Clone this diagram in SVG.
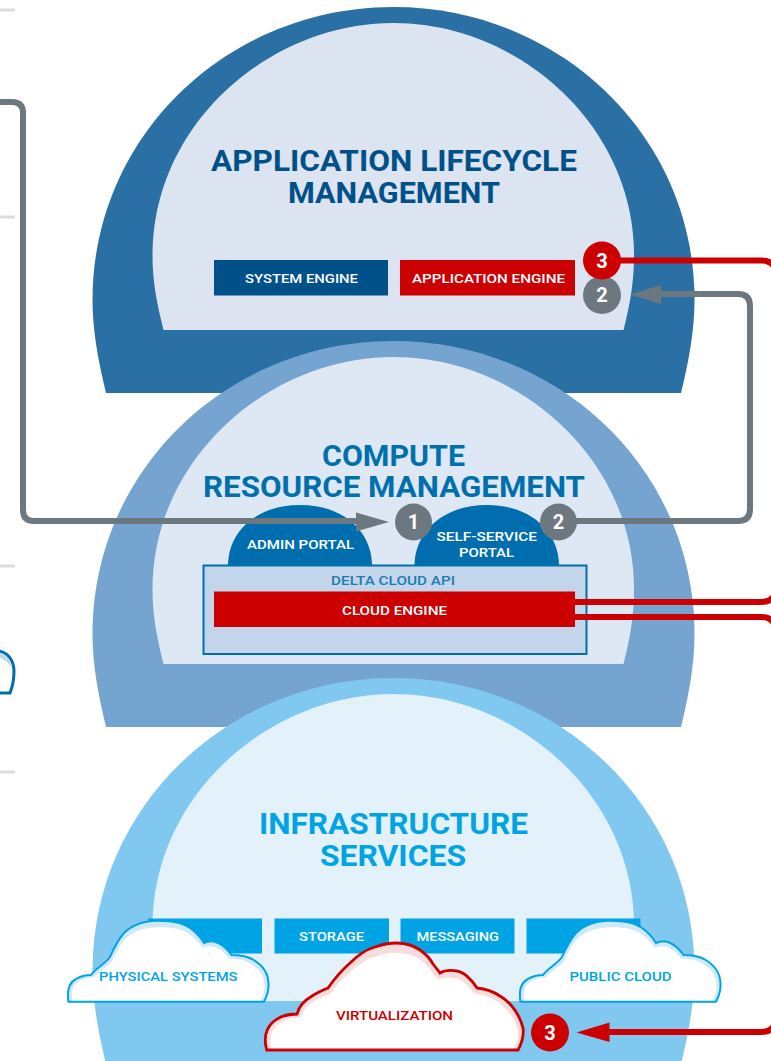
<svg xmlns="http://www.w3.org/2000/svg" width="771" height="1061" viewBox="0 0 771 1061">
<style>
text{font-family:"Roboto","Liberation Sans",sans-serif;font-weight:500}
.t{font-size:29px;font-weight:700}
.s{font-size:13.5px;fill:#fff}
.n{font-size:20px;font-weight:700;fill:#fff;text-anchor:middle}
.g{fill:none;stroke:#6d7780;stroke-width:6}
.r{fill:none;stroke:#cc0000;stroke-width:6}
.tick{fill:#dcdcdc}
</style>
<defs>
<path id="outer" d="M106 393C98 360 92.5 330 92.5 300C92.5 135 228.500 7 393.5 7C558.500 7 694.5 135 694.5 300C694.5 330 689 360 681 393Z"/>
<path id="inner" d="M163.5 330C156 300 152.5 280 152.5 255C152.5 125 268.500 23 393.5 23C518.500 23 634 125 634 255C634 280 631 300 623.5 330Z"/>
<path id="cloud" d="M68.4 1001.7C67 992 68 983 76 979C81 976 87 975 91 975C96 968 104 965 110 957C114 948 117 941 124 933C133 924 146 920.7 158 920.7C172 920.7 182 922 190 928C197 933 201 938 204 943C208 941 212 941 216 942C224 945 228 950 231.6 955C240 955 246 956 252 959C261 964 268 972 268.5 983C269 990 267 996 264 1001.7Z"/>
<path id="vcloud" d="M266.7 1050C264 1040 264 1030 273 1022C280 1016 289 1014 297 1014C299 1006 305 1000 312 996C318 992 323 990 328 988C335 978 342 970 350 963C358 955 368 949 375 947C383 944 390 943 397 943C406 943 414 946 420 950C427 955 431 960 433 964C436 968 438 970 440 973C445 970 451 970 457 971C464 972 472 980 477 988C487 989 494 992 500 996C512 1003 520 1016 523 1028C524 1036 522 1043 518 1050Z"/>
</defs>
<g id="ticks">
<rect class="tick" x="0" y="8.500" width="15" height="3"/>
<rect class="tick" x="0" y="215.500" width="15" height="3"/>
<rect class="tick" x="0" y="564.500" width="15" height="3"/>
<rect class="tick" x="0" y="770.500" width="15" height="3"/>
</g>
<g id="side-cloud">
<path d="M-2 651C8 652 14 661 14 671C14 680 12 688 10 693L-2 693Z" fill="#fff" stroke="#006eae" stroke-width="3"/>
<path d="M0 653C6 655 11 660 12 668C8 662 4 659 0 658Z" fill="#c2d5eb"/>
</g>
<g id="application-lifecycle">
<use href="#outer" fill="#2a70a4"/>
<use href="#inner" fill="#dbe4f0"/>
<text class="t" x="211" y="171" fill="#00508a" textLength="366" lengthAdjust="spacingAndGlyphs">APPLICATION LIFECYCLE</text>
<text class="t" x="288" y="203" fill="#00508a" textLength="212" lengthAdjust="spacingAndGlyphs">MANAGEMENT</text>
</g>
<g id="system-engine">
<rect x="214" y="260" width="174" height="35.500" fill="#00508a"/>
<text class="s" x="245" y="283" textLength="113" lengthAdjust="spacingAndGlyphs">SYSTEM ENGINE</text>
</g>
<g id="application-engine">
<rect x="400" y="260" width="175" height="35.500" fill="#cc0000"/>
<text class="s" x="412" y="283" textLength="153" lengthAdjust="spacingAndGlyphs">APPLICATION ENGINE</text>
</g>
<g id="compute-resource">
<use href="#outer" transform="translate(0 334)" fill="#75a4d0"/>
<use href="#inner" transform="translate(0 334)" fill="#dee8f5"/>
<text class="t" x="322" y="466" fill="#0070ad" textLength="143" lengthAdjust="spacingAndGlyphs">COMPUTE</text>
<text class="t" x="203" y="497" fill="#0070ad" textLength="382" lengthAdjust="spacingAndGlyphs">RESOURCE MANAGEMENT</text>
</g>
<g id="admin-portal">
<path d="M228 566C228 530 258 505 300 505C342 505 372 530 372 566Z" fill="#006eae"/>
<text class="s" x="247" y="549" textLength="107" lengthAdjust="spacingAndGlyphs">ADMIN PORTAL</text>
</g>
<g id="self-service-portal">
<path d="M414.500 566C414.500 530 445 505 487 505C529 505 559 530 559 566Z" fill="#006eae"/>
<text class="s" x="436.500" y="541" textLength="100.500" lengthAdjust="spacingAndGlyphs">SELF-SERVICE</text>
<text class="s" x="459" y="557" textLength="55" lengthAdjust="spacingAndGlyphs">PORTAL</text>
</g>
<g id="delta-cloud-api">
<rect x="203.500" y="565.500" width="383" height="88.500" fill="#c2d5eb" stroke="#0070ad" stroke-width="2"/>
<text class="s" x="331" y="584.500" style="fill:#1c7db5" textLength="124" lengthAdjust="spacingAndGlyphs">DELTA CLOUD API</text>
</g>
<g id="infrastructure">
<use href="#outer" transform="translate(0 671)" fill="#80c8f0"/>
<use href="#inner" transform="translate(0 671)" fill="#e3f1fb"/>
<text class="t" x="259" y="834" fill="#00a4e4" textLength="269" lengthAdjust="spacingAndGlyphs">INFRASTRUCTURE</text>
<text class="t" x="320" y="866" fill="#00a4e4" textLength="146" lengthAdjust="spacingAndGlyphs">SERVICES</text>
</g>
<g id="services">
<rect x="148" y="918.500" width="114" height="35" fill="#00a4e4"/>
<rect x="274.500" y="918.500" width="114.500" height="35" fill="#00a4e4"/>
<text class="s" x="299" y="941" textLength="65" lengthAdjust="spacingAndGlyphs">STORAGE</text>
<rect x="400.500" y="918.500" width="114" height="35" fill="#00a4e4"/>
<text class="s" x="416.500" y="941" textLength="82.500" lengthAdjust="spacingAndGlyphs">MESSAGING</text>
<rect x="526.500" y="918.500" width="114" height="35" fill="#00a4e4"/>
</g>
<g id="physical-systems">
<use href="#cloud" fill="#cfe9f9"/>
<use href="#cloud" fill="#fff" transform="translate(6.700 80.200) scale(.96 .92)"/>
<use href="#cloud" fill="none" stroke="#00a4e4" stroke-width="2"/>
<text class="s" x="99" y="981" style="fill:#00a4e4" textLength="138.500" lengthAdjust="spacingAndGlyphs">PHYSICAL SYSTEMS</text>
</g>
<g id="public-cloud">
<g transform="translate(452)">
<use href="#cloud" fill="#cfe9f9"/>
<use href="#cloud" fill="#fff" transform="translate(6.700 80.200) scale(.96 .92)"/>
<use href="#cloud" fill="none" stroke="#00a4e4" stroke-width="2"/>
</g>
<text class="s" x="569.500" y="981" style="fill:#00a4e4" textLength="102" lengthAdjust="spacingAndGlyphs">PUBLIC CLOUD</text>
</g>
<g id="virtualization">
<use href="#vcloud" fill="#f7dcdc"/>
<use href="#vcloud" fill="#fff" transform="translate(15.800 94.500) scale(.96 .91)"/>
<use href="#vcloud" fill="none" stroke="#cc0000" stroke-width="2.800"/>
<text x="336" y="1020" font-size="12.500" fill="#cc0000" textLength="117" lengthAdjust="spacingAndGlyphs">VIRTUALIZATION</text>
</g>
<g id="connectors">
<path class="g" d="M0 102H12Q23 102 23 113V510Q23 521 34 521H360"/>
<path class="g" d="M575 521H738Q750 521 750 509V306Q750 294 738 294H655"/>
<path d="M389 522L356 512.500V531.500Z" fill="#6d7780"/>
<path d="M630 294.500L661 285V304Z" fill="#6d7780"/>
<path class="r" d="M615 260.500H761Q776 260.500 776 275V587Q776 602 761 602H570"/>
<path class="r" d="M570 617H761Q776 617 776 632V1017Q776 1032 761 1032H605"/>
<path d="M576.500 1032.500L609.500 1022.500V1042Z" fill="#cc0000"/>
</g>
<g id="cloud-engine">
<rect x="214" y="591.500" width="361" height="35.500" fill="#cc0000"/>
<text class="s" x="342" y="614.500" textLength="105" lengthAdjust="spacingAndGlyphs">CLOUD ENGINE</text>
</g>
<g id="badges">
<circle cx="602" cy="295" r="19" fill="#6d7780"/>
<text class="n" x="602" y="302">2</text>
<circle cx="602" cy="260.500" r="19" fill="#cc0000"/>
<text class="n" x="602" y="268">3</text>
<circle cx="413.500" cy="522" r="18.500" fill="#6d7780"/>
<text class="n" x="413.500" y="529">1</text>
<circle cx="558.500" cy="522" r="18.500" fill="#6d7780"/>
<text class="n" x="558.500" y="529">2</text>
<circle cx="550" cy="1032.500" r="19" fill="#cc0000"/>
<text class="n" x="550" y="1040">3</text>
</g>
</svg>
